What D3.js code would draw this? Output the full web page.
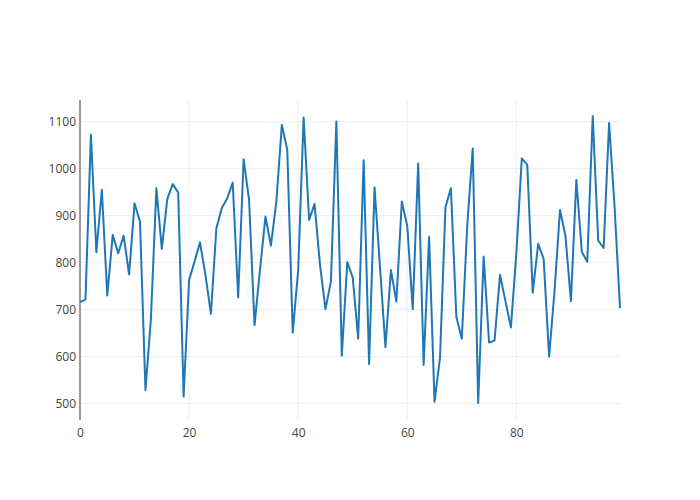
<!DOCTYPE html>
<html>
<head>
<meta charset="utf-8">
<script src="https://cdn.jsdelivr.net/npm/d3@7"></script>
<style>
  html, body { margin: 0; padding: 0; background: #fff; }
  svg { display: block; }
  text { font-family: "Open Sans", sans-serif; }
</style>
</head>
<body>
<svg id="chart" width="700" height="500"></svg>
<script>
const yValues = [
  716, 721, 1072, 822, 955, 730, 859, 820, 857, 775,
  926, 887, 529, 680, 958, 829, 935, 967, 949, 515,
  763, 802, 843, 774, 691, 873, 916, 937, 970, 726,
  1020, 933, 667, 785, 898, 836, 930, 1093, 1040, 651,
  784, 1109, 891, 925, 795, 701, 760, 1100, 602, 801,
  768, 638, 1018, 584, 960, 790, 620, 784, 717, 930,
  878, 701, 1011, 582, 855, 504, 597, 918, 958, 684,
  638, 880, 1043, 501, 813, 630, 634, 774, 718, 662,
  820, 1022, 1008, 736, 840, 808, 600, 740, 912, 857,
  718, 976, 823, 802, 1112, 847, 831, 1097, 920, 703
];
const xValues = yValues.map((_, i) => i);
const xTicks = [0, 20, 40, 60, 80];
const yTicks = [500, 600, 700, 800, 900, 1000, 1100];

const margin = {left: 80, right: 80, top: 100, bottom: 80};
const W = 700, H = 500;
const svg = d3.select("#chart");

const x = d3.scaleLinear().domain([0, 99]).range([margin.left, W - margin.right]);
const y = d3.scaleLinear().domain([465, 1146]).range([H - margin.bottom, margin.top]);

// grid
const g = svg.append("g");
g.selectAll("line.hgrid").data(yTicks).enter().append("line")
  .attr("x1", margin.left).attr("x2", W - margin.right)
  .attr("y1", d => y(d)).attr("y2", d => y(d))
  .attr("stroke", "#eee").attr("stroke-width", 1);
g.selectAll("line.vgrid").data(xTicks.filter(d => d !== 0)).enter().append("line")
  .attr("y1", margin.top).attr("y2", H - margin.bottom)
  .attr("x1", d => x(d)).attr("x2", d => x(d))
  .attr("stroke", "#eee").attr("stroke-width", 1);

// axes (labels only)
const xAxis = d3.axisBottom(x).tickValues(xTicks).tickFormat(d3.format("d")).tickSize(0).tickPadding(8);
const yAxis = d3.axisLeft(y).tickValues(yTicks).tickFormat(d3.format("d")).tickSize(0).tickPadding(3);

const gx = svg.append("g").attr("transform", `translate(0,${H - margin.bottom})`).call(xAxis);
const gy = svg.append("g").attr("transform", `translate(${margin.left - 1},0)`).call(yAxis);
[gx, gy].forEach(a => {
  a.select(".domain").remove();
  a.selectAll("text").attr("fill", "#444").style("font-size", "12px")
    .style("font-family", "'Open Sans', sans-serif");
});

// zero line at x=0
svg.append("line")
  .attr("x1", x(0)).attr("x2", x(0))
  .attr("y1", margin.top).attr("y2", H - margin.bottom)
  .attr("stroke", "#9a9a9a").attr("stroke-width", 2);

// line
const line = d3.line().x((d, i) => x(xValues[i])).y(d => y(d));
svg.append("path")
  .datum(yValues)
  .attr("d", line)
  .attr("fill", "none")
  .attr("stroke", "#1f77b4")
  .attr("stroke-width", 2)
  .attr("stroke-linejoin", "round");
</script>
</body>
</html>
